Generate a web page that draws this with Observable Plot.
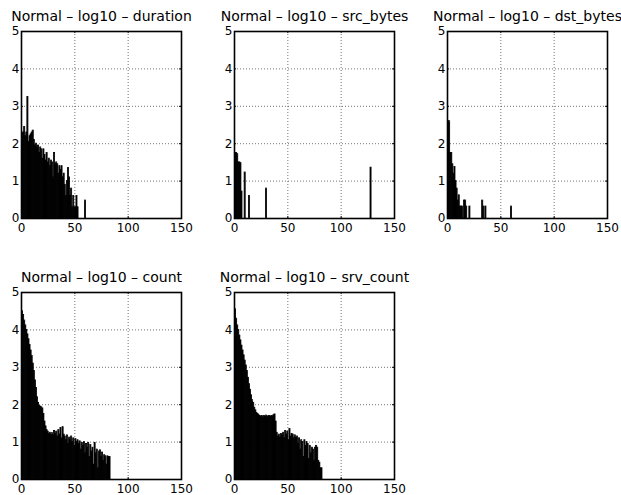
<!DOCTYPE html>
<html>
<head>
<meta charset="utf-8">
<script src="https://cdn.jsdelivr.net/npm/d3@7"></script>
<script src="https://cdn.jsdelivr.net/npm/@observablehq/plot@0.6"></script>
<style>
  html, body { margin: 0; padding: 0; background: white; overflow: hidden; }
  #chart { position: relative; width: 621px; height: 495px; overflow: hidden; background: white; }
  #chart svg { position: absolute; max-width: none; }
</style>
</head>
<body>
<div id="chart"></div>
<script>
// ---- tick labels ----
const xTicks = [0, 50, 100, 150];
const yTicks = [0, 1, 2, 3, 4, 5];

// ---- panel titles ----
const titles = [
  "Normal – log10 – duration",
  "Normal – log10 – src_bytes",
  "Normal – log10 – dst_bytes",
  "Normal – log10 – count",
  "Normal – log10 – srv_count"
];

// ---- series values (log10 of counts per bin) ----
// duration: bins 0..60
const durationVals = [
  4.95, 2.25, 2.3, 2.45, 2.2, 2.3, 3.25, 2.05, 2.2, 2.25,
  2.3, 2.35, 2.1, 1.95, 2.0, 1.9, 1.95, 1.75, 1.9, 1.85,
  1.6, 1.85, 1.7, 1.55, 1.75, 1.5, 1.6, 1.4, 1.55, 1.5,
  1.1, 1.75, 1.45, 1.5, 1.45, 1.2, 1.4, 1.3, 1.4, 1.1,
  1.2, 0.9, 0.6, 1.0, 1.35, 1.1, 0.6, 0.8, 0.3, 0.6,
  0.3, 0.3, 0.6, 0.3, 0, 0, 0, 0, 0, 0,
  0.48
];

// src_bytes: sparse bins
const srcBytesBins = [0, 1, 2, 3, 4, 5, 6, 7, 10, 14, 30, 128];
const srcBytesVals = [4.95, 1.75, 1.75, 1.72, 1.5, 1.5, 1.48, 0.72, 1.23, 0.6, 0.8, 1.36];

// dst_bytes: sparse bins
const dstBytesBins = [0, 1, 2, 3, 4, 5, 6, 7, 8, 9, 10, 11, 12, 13, 14, 16, 17, 18, 21, 33, 34, 36, 60];
const dstBytesVals = [4.95, 2.6, 2.6, 1.75, 1.75, 1.45, 1.2, 1.38, 1.0, 0.8, 0.48, 0.62, 0.32, 0.32, 0.32, 0.48, 0.48, 0.32, 0.32, 0.48, 0.32, 0.32, 0.32];

// count: bins 0..83
const countVals = [
  4.75, 4.5, 4.4, 4.25, 4.12, 4.0, 3.88, 3.75, 3.6, 3.45,
  3.3, 3.1, 2.9, 2.65, 2.45, 2.2, 2.05, 1.97, 1.95, 1.93,
  1.9, 1.75, 1.55, 1.42, 1.32, 1.28, 1.22, 1.25, 1.2, 1.24,
  1.18, 1.3, 1.22, 1.28, 1.15, 1.32, 1.2, 1.38, 1.1, 1.4,
  1.2, 1.15, 1.05, 1.18, 0.95, 1.12, 1.05, 1.15, 1.0, 1.1,
  0.9, 1.08, 1.0, 1.05, 0.95, 1.02, 0.8, 0.98, 0.9, 1.0,
  0.7, 0.95, 0.85, 0.98, 0.6, 0.92, 0.75, 0.85, 0.4, 0.98,
  0.7, 0.8, 0.3, 0.75, 0.78, 0.6, 0.72, 0.5, 0.65, 0.62,
  0.4, 0.62, 0.6, 0.6
];

// srv_count: bins 0..82
const srvCountVals = [
  4.7, 4.55, 4.3, 4.12, 4.0, 3.85, 3.72, 3.58, 3.45, 3.32,
  3.18, 3.05, 2.9, 2.72, 2.55, 2.4, 2.25, 2.12, 2.05, 1.92,
  1.85, 1.78, 1.75, 1.72, 1.7, 1.68, 1.7, 1.66, 1.7, 1.68,
  1.71, 1.66, 1.69, 1.7, 1.67, 1.7, 1.69, 1.72, 1.74, 1.55,
  1.25, 1.15, 1.2, 1.12, 1.22, 1.18, 1.25, 1.1, 1.3, 1.2,
  1.28, 1.05, 1.35, 1.15, 1.22, 1.2, 1.1, 1.18, 1.12, 1.15,
  0.95, 1.1, 0.8, 1.05, 1.0, 0.6, 1.05, 0.9, 1.0, 0.95,
  0.55, 0.9, 0.7, 0.85, 0.8, 0.5, 0.85, 0.9, 0.85, 0.5,
  0.45, 0.3, 0.3
];

// ---- build tables ----
const dense = vals => vals.map((v, i) => ({bin: i, v})).filter(d => d.v > 0);
const sparse = (bins, vals) => bins.map((b, i) => ({bin: b, v: vals[i]})).filter(d => d.v > 0);

const series = [
  dense(durationVals),
  sparse(srcBytesBins, srcBytesVals),
  sparse(dstBytesBins, dstBytesVals),
  dense(countVals),
  dense(srvCountVals)
];

// ---- layout ----
const FW = 160, FH = 187;
const ML = 40, MR = 40, MT = 35, MB = 25;
const lefts = [21, 234.3, 446.7, 21, 234.3];
const tops = [31, 31, 31, 291.7, 291.7];

const container = document.getElementById("chart");

series.forEach((data, k) => {
  const svg = Plot.plot({
    width: FW + ML + MR,
    height: FH + MT + MB,
    marginLeft: ML, marginRight: MR, marginTop: MT, marginBottom: MB,
    style: {fontFamily: "'DejaVu Sans', sans-serif", fontSize: "12px", background: "transparent", overflow: "visible", color: "black"},
    x: {domain: [0, 150], label: null},
    y: {domain: [0, 5], label: null},
    marks: [
      Plot.gridX(xTicks, {stroke: "#000", strokeOpacity: 0.55, strokeDasharray: "1,2", strokeWidth: 1}),
      Plot.gridY(yTicks, {stroke: "#000", strokeOpacity: 0.55, strokeDasharray: "1,2", strokeWidth: 1}),
      Plot.rectY(data, {
        x1: d => d.bin - 0.5,
        x2: d => d.bin + 0.5,
        y: "v",
        fill: "black",
        stroke: "black",
        strokeWidth: 0.8,
        clip: true
      }),
      Plot.tickX(xTicks, {x: d => d, insetTop: FH - 2, stroke: "black"}),
      Plot.tickX(xTicks, {x: d => d, insetBottom: FH - 2, stroke: "black"}),
      Plot.tickY(yTicks, {y: d => d, insetLeft: FW - 2, stroke: "black"}),
      Plot.tickY(yTicks, {y: d => d, insetRight: FW - 2, stroke: "black"}),
      Plot.frame({stroke: "black", strokeWidth: 1.6}),
      Plot.axisX(xTicks, {anchor: "bottom", tickSize: 0, tickPadding: 5, label: null, fontSize: 12}),
      Plot.axisY(yTicks, {anchor: "left", tickSize: 0, tickPadding: 2, label: null, fontSize: 12}),
      Plot.text([titles[k]], {
        text: d => d,
        frameAnchor: "top",
        lineAnchor: "bottom",
        dy: -10.5,
        fontSize: 14,
        fill: "black"
      })
    ]
  });
  svg.style.left = (lefts[k] - ML) + "px";
  svg.style.top = (tops[k] - MT) + "px";
  container.appendChild(svg);
});
</script>
</body>
</html>
